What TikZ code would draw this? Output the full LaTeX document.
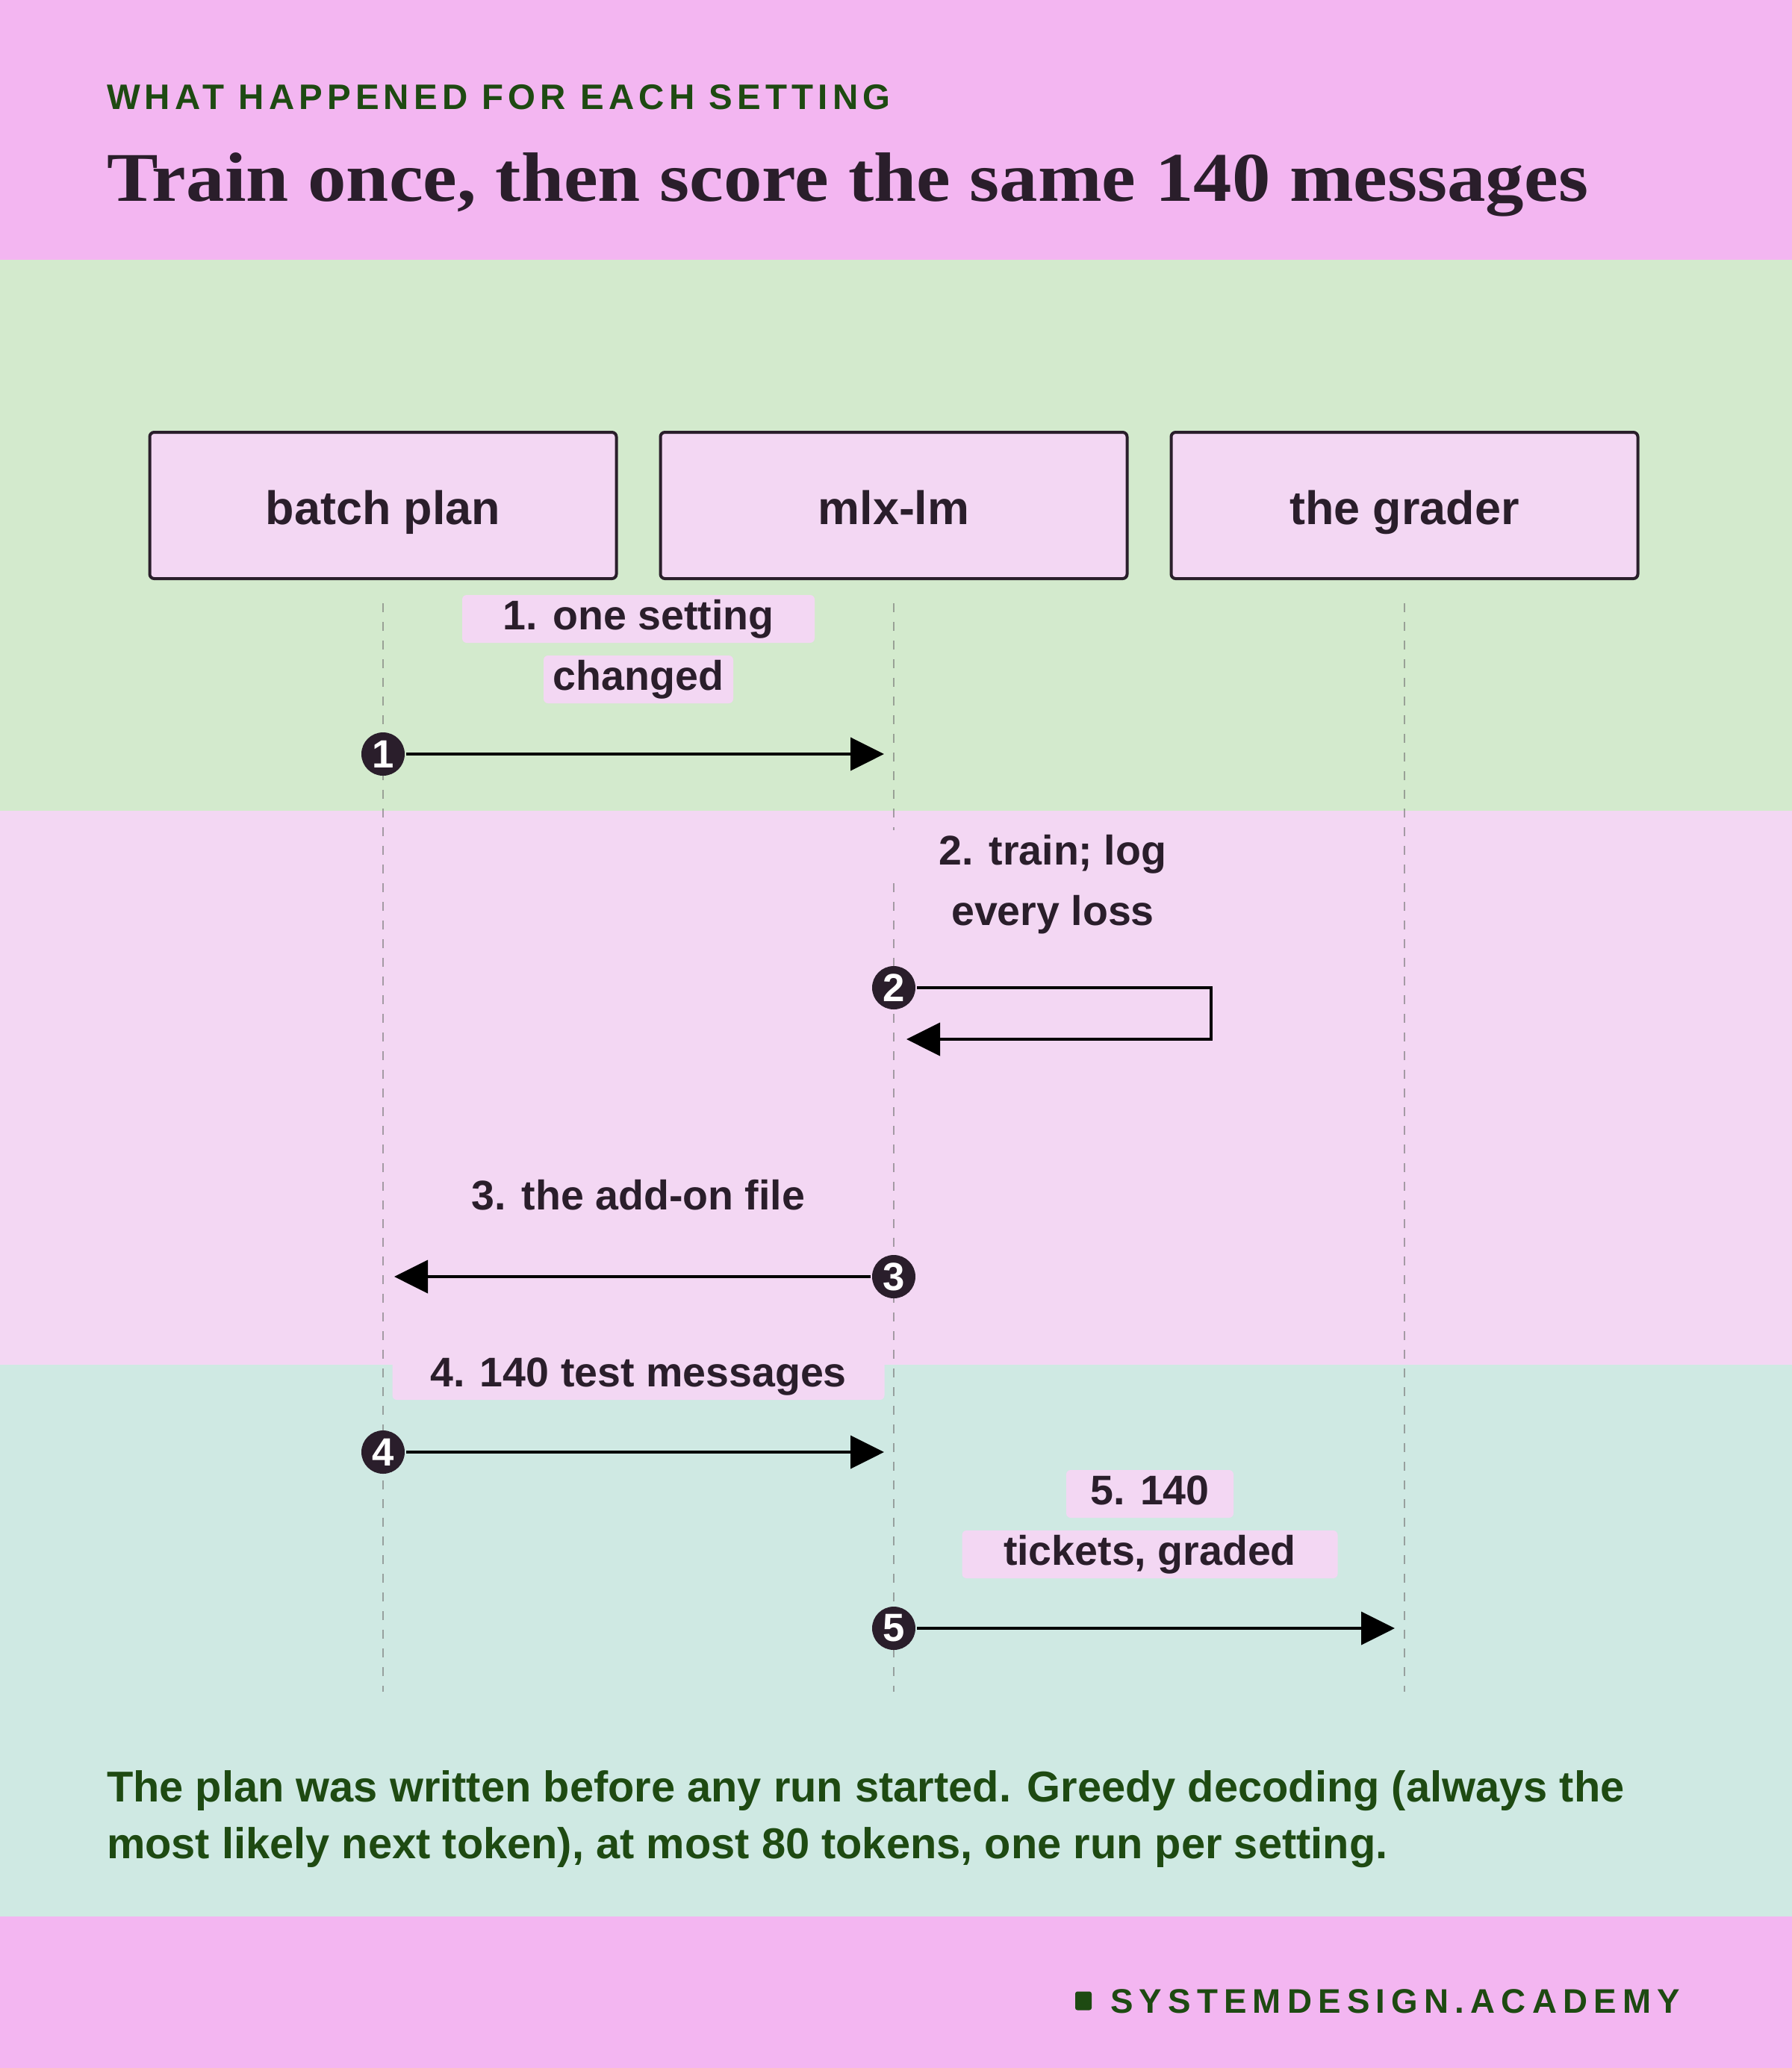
\documentclass[tikz,border=0pt]{standalone}
\usepackage{fontspec}
\setmainfont{Liberation Sans}
\newfontfamily\titlefont{Liberation Serif}[FakeStretch=1.1]
\newfontfamily\kickfont{Liberation Sans}[LetterSpace=13]
\newfontfamily\brandfont{Liberation Sans}[LetterSpace=18]
\usetikzlibrary{positioning, arrows.meta}

\definecolor{hdrpink}{HTML}{F3B6F1}
\definecolor{bandgreen}{HTML}{D3EACD}
\definecolor{bandpink}{HTML}{F3D7F3}
\definecolor{bandteal}{HTML}{CFE9E3}
\definecolor{boxpink}{HTML}{F3D7F3}
\definecolor{ink}{HTML}{2A1E2B}
\definecolor{hdrgreen}{HTML}{1E4A12}
\definecolor{lifegray}{HTML}{7A7A7A}

\begin{document}
\begin{tikzpicture}[
            x = 1cm, y = -1cm, % 1 unit = 100 px, y runs down
            > = {Triangle[length=4.5mm, width=4.4mm]}, % arrow head style
            line width = 0.4mm, % line style
            actor/.style = {draw = ink, fill = boxpink, rounded corners = 0.6mm,
                minimum width = 6.25cm, minimum height = 1.96cm, text = ink,
                text height = 5mm, text depth = 0mm,
                font = \bfseries\fontsize{17.9}{20}\selectfont},
            msg/.style = {fill = boxpink, rounded corners = 0.6mm, inner xsep = 0pt,
                inner ysep = 0.4mm, text height = 4.2mm, text depth = 1.4mm, text = ink,
                font = \bfseries\fontsize{15.8}{18}\selectfont},
            stepdot/.style = {circle, fill = ink, inner sep = 0pt, minimum size = 5.8mm,
                text = white, font = \bfseries\fontsize{15}{16}\selectfont},
            life/.style = {draw = lifegray, draw opacity = 0.65, line width = 0.2mm,
                dash pattern = on 1.2mm off 1.3mm}
        ]

        \useasboundingbox (0,0) rectangle (24,27.7);

        % bands
        \fill[hdrpink] (0,0) rectangle (24,3.48);
        \fill[bandgreen] (0,3.48) rectangle (24,10.86);
        \fill[bandpink] (0,10.86) rectangle (24,18.28);
        \fill[bandteal] (0,18.28) rectangle (24,25.67);
        \fill[hdrpink] (0,25.67) rectangle (24,27.7);

        % heading
        \node[anchor = base west, inner sep = 0pt, text = hdrgreen,
            font = \kickfont\bfseries\fontsize{13.5}{16}\selectfont]
            (kicker) at (1.41,1.46) {WHAT HAPPENED FOR EACH SETTING};
        \node[anchor = base west, inner sep = 0pt, text = ink,
            font = \titlefont\bfseries\fontsize{26.6}{30}\selectfont]
            (title) at (1.41,2.69) {Train once, then score the same 140 messages};

        % actors
        \node[actor] (plan) at (5.13,6.77) {batch plan};
        \node[actor, right = 0.55cm of plan] (mlx) {mlx-lm};
        \node[actor, right = 0.55cm of mlx] (grader) {the grader};

        % lifelines
        \foreach \a in {plan, mlx, grader} {
            \path (\a.south) ++(0,0.31) coordinate (\a-top) ++(0,14.58) coordinate (\a-end);
            \draw[life] (\a-top) -- (\a-end);
        }

        % message labels
        \node[msg, minimum width = 4.72cm] (m1a) at (8.55,8.29) {1. one setting};
        \node[msg, minimum width = 2.54cm, below = 1.3mm of m1a] (m1b) {changed};
        \node[msg, minimum width = 4.40cm] (m2a) at (14.10,11.44) {2. train; log};
        \node[msg, minimum width = 3.47cm, below = 1.3mm of m2a] (m2b) {every loss};
        \node[msg, minimum width = 5.96cm] (m3) at (8.55,16.06) {3. the add-on file};
        \node[msg, minimum width = 6.59cm] (m4) at (8.55,18.43) {4. 140 test messages};
        \node[msg, minimum width = 2.24cm] (m5a) at (15.40,20.01) {5. 140};
        \node[msg, minimum width = 5.03cm, below = 1.3mm of m5a] (m5b) {tickets, graded};

        % steps
        \node[stepdot] (s1) at (5.13,10.10) {1};
        \node[stepdot] (s2) at (11.97,13.23) {2};
        \node[stepdot] (s3) at (11.97,17.10) {3};
        \node[stepdot] (s4) at (5.13,19.45) {4};
        \node[stepdot] (s5) at (11.97,21.81) {5};

        \coordinate (t1) at (11.84,10.10);
        \coordinate (k2) at (16.22,13.92);
        \coordinate (t2) at (12.14,13.92);
        \coordinate (t3) at (5.28,17.10);
        \coordinate (t4) at (11.84,19.45);
        \coordinate (t5) at (18.68,21.81);

        \draw[->] (s1) -- (t1);
        \draw[->] (s2) -| (k2) -- (t2);
        \draw[->] (s3) -- (t3);
        \draw[->] (s4) -- (t4);
        \draw[->] (s5) -- (t5);

        % note
        \node[anchor = base west, inner sep = 0pt, text = hdrgreen,
            font = \bfseries\fontsize{16.45}{20}\selectfont]
            (note1) at (1.41,24.13) {The plan was written before any run started. Greedy decoding (always the};
        \node[anchor = base west, inner sep = 0pt, text = hdrgreen,
            font = \bfseries\fontsize{16.45}{20}\selectfont]
            (note2) at (1.41,24.89) {most likely next token), at most 80 tokens, one run per setting.};

        % brand
        \node[fill = hdrgreen, inner sep = 0pt, minimum width = 2.2mm, minimum height = 2.5mm,
            rounded corners = 0.3mm] (mark) at (14.51,26.80) {};
        \node[anchor = base west, inner sep = 0pt, text = hdrgreen,
            font = \brandfont\bfseries\fontsize{13}{16}\selectfont]
            (brand) at (14.85,26.96) {SYSTEMDESIGN.ACADEMY};
    \end{tikzpicture}
\end{document}
